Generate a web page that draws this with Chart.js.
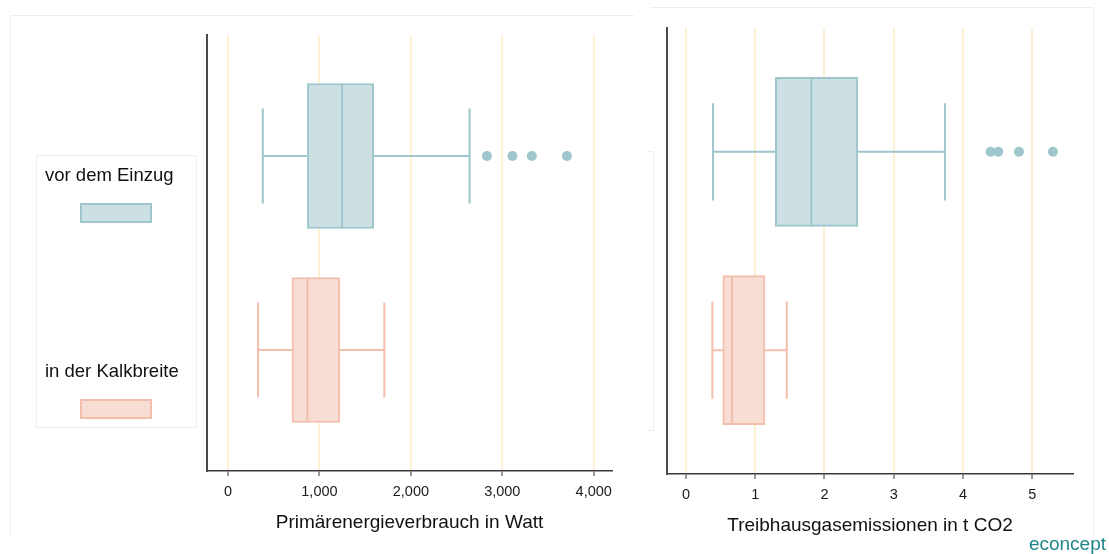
<!DOCTYPE html>
<html>
<head>
<meta charset="utf-8">
<title>Boxplots Kalkbreite</title>
<script src="https://cdn.jsdelivr.net/npm/chart.js@4/dist/chart.umd.min.js"></script>
<style>
  body { margin: 0; background: #fff; font-family: "Liberation Sans", Arial, sans-serif; }
  #wrap { position: relative; width: 1109px; height: 554px; overflow: hidden; }
  canvas { position: absolute; top: 0; }
  #energy { left: 0; }
  #co2 { left: 620px; }
  .frame { position: absolute; border: 0 solid #e8efef; }
  .legend { position: absolute; left: 36px; top: 155px; width: 159px; height: 271px; border: 1px solid #e8efef; }
  .legend .lbl { position: absolute; left: 8px; font-size: 18.5px; line-height: 21px; color: #111; white-space: nowrap; }
  .legend .sw { position: absolute; left: 43px; width: 68px; height: 16px; border: 2px solid; }
  .brand { position: absolute; right: 3px; top: 533px; font-size: 19px; line-height: 22px; color: #1f8589; }
</style>
</head>
<body>
<div id="wrap">
  <div class="frame" style="left:10px;top:15px;width:623px;height:520px;border-top-width:1px;border-left-width:1px;"></div>
  <div class="frame" style="left:650px;top:7px;width:443px;height:528px;border-top-width:1px;border-right-width:1px;"></div>
  <div class="frame" style="left:648px;top:151px;width:5px;height:278px;border-top-width:1px;border-bottom-width:1px;border-right-width:1px;"></div>
  <canvas id="energy" width="620" height="554"></canvas>
  <canvas id="co2" width="489" height="554"></canvas>
  <div class="legend">
    <div class="lbl" style="top:8px">vor dem Einzug</div>
    <div class="sw" style="top:47px;background:#cce0e4;border-color:#9ec6cc"></div>
    <div class="lbl" style="top:204px">in der Kalkbreite</div>
    <div class="sw" style="top:243px;background:#f8ddd5;border-color:#f2bfad"></div>
  </div>
  <div class="brand">econcept</div>
</div>
<script>
const groups = ['vor dem Einzug', 'in der Kalkbreite']

// Primärenergie (Watt)
const energyLow = [380, 328]
const energyQ1 = [868, 700]
const energyMedian = [1248, 868]
const energyQ3 = [1594, 1223]
const energyHigh = [2642, 1710]
const energyOutliers = [[2832, 3111, 3323, 3707], []]
const energyTicks = [0, 1000, 2000, 3000, 4000]

// Treibhausgas (t CO2)
const co2Low = [0.39, 0.38]
const co2Q1 = [1.29, 0.53]
const co2Median = [1.81, 0.665]
const co2Q3 = [2.48, 1.14]
const co2High = [3.74, 1.455]
const co2Outliers = [[4.40, 4.51, 4.81, 5.30], []]
const co2Ticks = [0, 1, 2, 3, 4, 5]

const fills = ['#cce0e4', '#f8ddd5']
const lines = ['#9ec6cc', '#f2bfad']

const whiskers = {
    id: 'whiskers',
    afterDatasetsDraw(chart, args, opts) {
        const ctx = chart.ctx
        const xs = chart.scales.x
        const ys = chart.scales.y
        const boxes = chart.getDatasetMeta(0).data
        const capHalf = Math.abs(ys.getPixelForValue(opts.cap) - ys.getPixelForValue(0))
        ctx.save()
        ctx.lineWidth = 2
        groups.forEach((g, i) => {
            const cy = ys.getPixelForValue(i)
            const b = boxes[i]
            ctx.strokeStyle = lines[i]
            ctx.beginPath()
            ctx.moveTo(xs.getPixelForValue(opts.low[i]), cy)
            ctx.lineTo(xs.getPixelForValue(opts.q1[i]), cy)
            ctx.moveTo(xs.getPixelForValue(opts.q3[i]), cy)
            ctx.lineTo(xs.getPixelForValue(opts.high[i]), cy)
            const lx = xs.getPixelForValue(opts.low[i])
            const hx = xs.getPixelForValue(opts.high[i])
            ctx.moveTo(lx, cy - capHalf); ctx.lineTo(lx, cy + capHalf)
            ctx.moveTo(hx, cy - capHalf); ctx.lineTo(hx, cy + capHalf)
            const mx = xs.getPixelForValue(opts.median[i])
            ctx.moveTo(mx, b.y - b.height / 2); ctx.lineTo(mx, b.y + b.height / 2)
            ctx.stroke()
        })
        ctx.restore()
    }
}

function boxChart(id, d) {
    const ctx = document.getElementById(id).getContext('2d')
    return new Chart(ctx, {
        type: 'bar',
        data: {
            datasets: [{
                data: groups.map((g, i) => ({ x: [d.q1[i], d.q3[i]], y: i })),
                backgroundColor: fills,
                borderColor: lines,
                borderWidth: 2,
                borderSkipped: false,
                barThickness: d.thick
            }, {
                type: 'scatter',
                data: d.outliers.flatMap((arr, i) => arr.map(v => ({ x: v, y: i }))),
                backgroundColor: lines[0],
                borderWidth: 0,
                pointRadius: 5
            }]
        },
        options: {
            indexAxis: 'y',
            responsive: false,
            animation: false,
            locale: 'en-US',
            layout: { padding: d.pad },
            plugins: {
                legend: { display: false },
                tooltip: { enabled: false },
                whiskers: { low: d.low, q1: d.q1, median: d.median, q3: d.q3, high: d.high, cap: 0.245 }
            },
            scales: {
                x: {
                    type: 'linear',
                    min: d.min,
                    max: d.max,
                    afterBuildTicks: s => { s.ticks = d.ticks.map(v => ({ value: v })) },
                    afterFit: s => { s.height = d.axisH },
                    grid: { color: '#fdf0d3', lineWidth: 2, tickColor: '#333', tickLength: 5, tickWidth: 1 },
                    border: { display: true, color: '#3a3a3a', width: 1.5 },
                    ticks: { color: '#1a1a1a', padding: 7, font: { family: 'Liberation Sans', size: 14.5 } },
                    title: {
                        display: true,
                        text: d.title,
                        color: '#111',
                        font: { family: 'Liberation Sans', size: 19 },
                        padding: { top: 0, bottom: d.titlePad }
                    }
                },
                y: {
                    type: 'linear',
                    reverse: true,
                    offset: false,
                    min: -0.624,
                    max: 1.624,
                    afterFit: s => { s.width = 0 },
                    ticks: { display: false },
                    grid: { display: false, offset: false },
                    border: { display: true, color: '#4a4a4a', width: 2 }
                }
            }
        },
        plugins: [whiskers]
    })
}

boxChart('energy', {
    low: energyLow, q1: energyQ1, median: energyMedian, q3: energyQ3, high: energyHigh,
    outliers: energyOutliers, ticks: energyTicks,
    min: -230, max: 4200, thick: 145,
    pad: { left: 207, right: 8, top: 35, bottom: 0 },
    axisH: 83, titlePad: 19.5,
    title: 'Primärenergieverbrauch in Watt'
})

boxChart('co2', {
    low: co2Low, q1: co2Q1, median: co2Median, q3: co2Q3, high: co2High,
    outliers: co2Outliers, ticks: co2Ticks,
    min: -0.275, max: 5.59, thick: 149,
    pad: { left: 47, right: 36, top: 28, bottom: 0 },
    axisH: 80, titlePad: 16.5,
    title: 'Treibhausgasemissionen in t CO2'
})
</script>
</body>
</html>
